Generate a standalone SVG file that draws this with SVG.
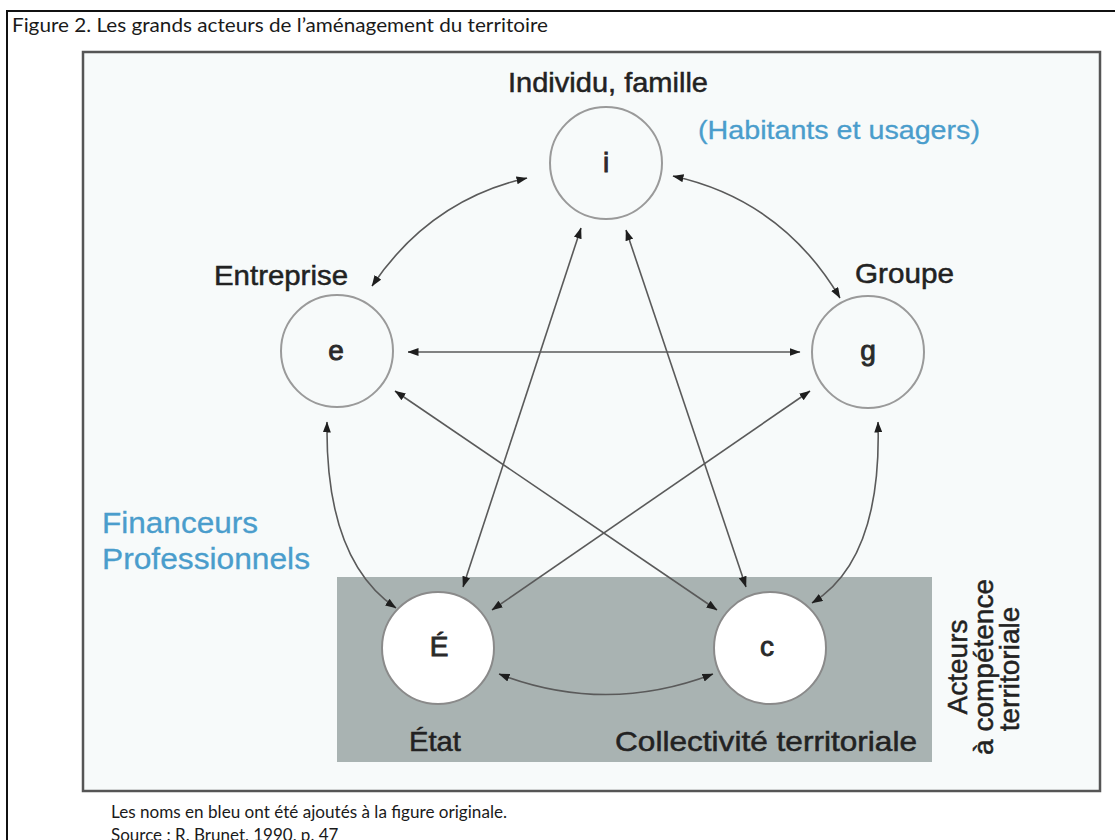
<svg xmlns="http://www.w3.org/2000/svg" width="1115" height="840" viewBox="0 0 1115 840">
<defs>
<marker id="ah" viewBox="0 0 11 8" refX="10.5" refY="4" markerWidth="11" markerHeight="8" markerUnits="userSpaceOnUse" orient="auto-start-reverse">
<path d="M0,0 L11,4 L0,8 z" fill="#1e1e1e"/>
</marker>
<style>
.doc{font-family:"Lato","Open Sans","Liberation Sans",sans-serif;fill:#1a1a1a}
.lbl{font-family:"Liberation Sans",Arial,sans-serif;font-size:28px;fill:#222;stroke:#222;stroke-width:0.5}
.blue{font-family:"Liberation Sans",Arial,sans-serif;fill:#4a9dcc;stroke:#4a9dcc;stroke-width:0.3}
.let{font-family:"Liberation Sans",Arial,sans-serif;font-size:28px;fill:#2a2a2a;stroke:#2a2a2a;stroke-width:0.9;text-anchor:middle}
.node{fill:none;stroke:#9a9a9a;stroke-width:2}
.wnode{fill:#ffffff;stroke:#8a8a8a;stroke-width:2}
.edge{fill:none;stroke:#5a5a5a;stroke-width:1.6;marker-start:url(#ah);marker-end:url(#ah)}
</style>
</defs>
<rect x="0" y="0" width="1115" height="840" fill="#ffffff"/>
<!-- outer frame -->
<path d="M7,840 V11 H1115" fill="none" stroke="#111" stroke-width="2"/>
<text class="doc" x="12" y="32" font-size="19" textLength="536" lengthAdjust="spacingAndGlyphs">Figure 2. Les grands acteurs de l’aménagement du territoire</text>
<!-- inner frame -->
<rect x="83" y="52" width="1017" height="739" fill="#f7fafa" stroke="#555" stroke-width="2.5"/>
<!-- territorial box -->
<rect id="territorial-box" x="337" y="577" width="595" height="185" fill="#a9b3b2"/>

<g id="edges">
<path class="edge" d="M372,286 Q430,200 527,178"/>
<path class="edge" d="M673,176 Q782,200 840,298"/>
<path class="edge" d="M408,352 L800,352"/>
<path class="edge" d="M395,391 L717,610"/>
<path class="edge" d="M810,391 L492,610"/>
<path class="edge" d="M581,228 L463,587"/>
<path class="edge" d="M626,230 L746,587"/>
<path class="edge" d="M327,422 Q325,560 396,608"/>
<path class="edge" d="M878,422 Q882,560 812,603"/>
<path class="edge" d="M499,674 Q606,715 713,674"/>
</g>

<g id="node-i">
<circle class="node" cx="606" cy="163" r="56"/>
<text class="let" x="606" y="172">i</text>
<text class="lbl" x="508" y="92" textLength="200" lengthAdjust="spacingAndGlyphs">Individu, famille</text>
</g>
<g id="node-e">
<circle class="node" cx="337" cy="351" r="56"/>
<text class="let" x="336" y="360">e</text>
<text class="lbl" x="214" y="285" textLength="134" lengthAdjust="spacingAndGlyphs">Entreprise</text>
</g>
<g id="node-g">
<circle class="node" cx="868" cy="352" r="56"/>
<text class="let" x="868" y="360">g</text>
<text class="lbl" x="855" y="283" textLength="99" lengthAdjust="spacingAndGlyphs">Groupe</text>
</g>
<g id="node-E">
<circle class="wnode" cx="438" cy="648" r="56"/>
<text class="let" x="439" y="656">É</text>
<text class="lbl" x="409" y="751" textLength="52" lengthAdjust="spacingAndGlyphs">État</text>
</g>
<g id="node-c">
<circle class="wnode" cx="770" cy="648" r="56"/>
<text class="let" x="767" y="656">c</text>
<text class="lbl" x="615" y="751" textLength="302" lengthAdjust="spacingAndGlyphs">Collectivité territoriale</text>
</g>

<g id="annotations">
<text class="blue" x="698" y="139" font-size="26" textLength="282" lengthAdjust="spacingAndGlyphs">(Habitants et usagers)</text>
<text class="blue" x="102" y="533" font-size="29" textLength="156" lengthAdjust="spacingAndGlyphs">Financeurs</text>
<text class="blue" x="102" y="569" font-size="29" textLength="208" lengthAdjust="spacingAndGlyphs">Professionnels</text>
<g class="lbl" font-size="26" text-anchor="middle">
<text transform="translate(967,667) rotate(-90)">Acteurs</text>
<text transform="translate(993,667) rotate(-90)">à compétence</text>
<text transform="translate(1019,669) rotate(-90)">territoriale</text>
</g>
</g>

<text class="doc" x="111" y="818" font-size="17" textLength="396" lengthAdjust="spacingAndGlyphs">Les noms en bleu ont été ajoutés à la figure originale.</text>
<text class="doc" x="111" y="841" font-size="17">Source : R. Brunet, 1990, p. 47</text>
</svg>
